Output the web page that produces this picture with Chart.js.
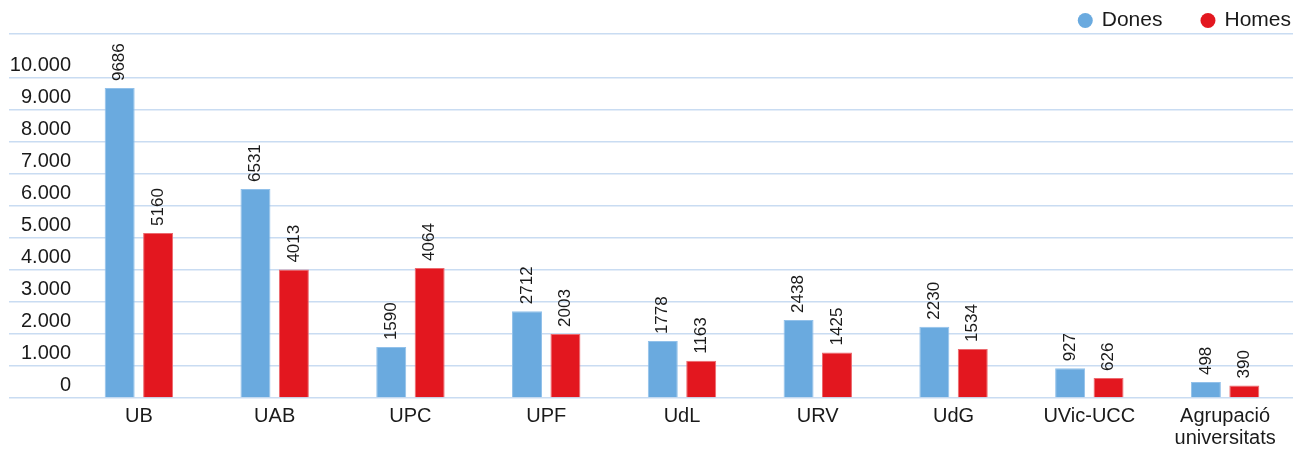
<!DOCTYPE html>
<html>
<head>
<meta charset="utf-8">
<script src="https://cdn.jsdelivr.net/npm/chart.js@4"></script>
<style>
  html, body { margin: 0; padding: 0; background: #fff; }
  #wrap { width: 1293px; height: 450px; }
</style>
</head>
<body>
<div id="wrap"><canvas id="myChart" width="1293" height="450"></canvas></div>
<script>
// data
var categories = ['UB', 'UAB', 'UPC', 'UPF', 'UdL', 'URV', 'UdG', 'UVic-UCC', ['Agrupació', 'universitats']];
var dones = [9686, 6531, 1590, 2712, 1778, 2438, 2230, 927, 498];
var homes = [5160, 4013, 4064, 2003, 1163, 1425, 1534, 626, 390];
var yTickValues = [0, 1000, 2000, 3000, 4000, 5000, 6000, 7000, 8000, 9000, 10000];
var yTop = 11375;

var FONT = "'Liberation Sans', Arial, Helvetica, sans-serif";
var TXT = '#1a1a1a';

function fmt(v) {
  return String(v).replace(/\B(?=(\d{3})+(?!\d))/g, '.');
}

// vertical value labels above every bar
var valueLabels = {
  id: 'valueLabels',
  afterDatasetsDraw: function(chart) {
    var ctx = chart.ctx;
    ctx.save();
    ctx.font = '17px ' + FONT;
    ctx.fillStyle = TXT;
    ctx.textAlign = 'left';
    ctx.textBaseline = 'middle';
    chart.data.datasets.forEach(function(ds, i) {
      chart.getDatasetMeta(i).data.forEach(function(bar, j) {
        ctx.save();
        ctx.translate(bar.x, bar.y - 7);
        ctx.rotate(-Math.PI / 2);
        ctx.fillText(String(ds.data[j]), 0, 0);
        ctx.restore();
      });
    });
    ctx.restore();
  }
};

// legend top right: dot + name, laid out from the right edge
var topLegend = {
  id: 'topLegend',
  afterDraw: function(chart) {
    var ctx = chart.ctx;
    var y = 20.5, r = 7.5, gap = 9, space = 38;
    var x = chart.width - 2;
    ctx.save();
    ctx.font = '21px ' + FONT;
    ctx.textBaseline = 'middle';
    ctx.textAlign = 'left';
    var sets = chart.data.datasets.slice().reverse();
    sets.forEach(function(ds) {
      var w = ctx.measureText(ds.label).width;
      var tx = x - w;
      ctx.fillStyle = TXT;
      ctx.fillText(ds.label, tx, y);
      ctx.beginPath();
      ctx.arc(tx - gap - r, y, r, 0, Math.PI * 2);
      ctx.fillStyle = ds.backgroundColor;
      ctx.fill();
      x = tx - gap - 2 * r - space;
    });
    ctx.restore();
  }
};

var ctx = document.getElementById('myChart').getContext('2d');
var chart = new Chart(ctx, {
  type: 'bar',
  data: {
    labels: categories,
    datasets: [{
      label: 'Dones',
      data: dones,
      backgroundColor: '#6aaadf',
      borderColor: '#92c1ea',
      borderWidth: 1,
      borderSkipped: 'bottom',
      categoryPercentage: 0.566,
      barPercentage: 0.78
    }, {
      label: 'Homes',
      data: homes,
      backgroundColor: '#e3171f',
      borderColor: '#ec6a6f',
      borderWidth: 1,
      borderSkipped: 'bottom',
      categoryPercentage: 0.566,
      barPercentage: 0.78
    }]
  },
  options: {
    responsive: false,
    animation: false,
    layout: { padding: { left: 9, right: 0, top: 34, bottom: 0 } },
    plugins: {
      tooltip: { enabled: false },
      legend: { display: false }
    },
    scales: {
      x: {
        grid: { display: false, drawTicks: false },
        border: { display: false },
        ticks: {
          color: TXT,
          font: { family: FONT, size: 20, lineHeight: 1.1 },
          padding: 7,
          maxRotation: 0,
          autoSkip: false
        },
        afterFit: function(scale) { scale.height = 52; }
      },
      y: {
        min: 0,
        max: yTop,
        border: { display: false },
        grid: {
          color: '#c9dcf2',
          lineWidth: 1.5,
          drawTicks: true,
          tickLength: 62
        },
        ticks: {
          color: TXT,
          font: { family: FONT, size: 20 },
          padding: -62,
          labelOffset: -13,
          callback: function(v) { return v > 10000 ? '' : fmt(v); }
        },
        afterBuildTicks: function(scale) {
          scale.ticks = yTickValues.concat([yTop]).map(function(v) { return { value: v }; });
        },
        afterFit: function(scale) { scale.width = 62; }
      }
    }
  },
  plugins: [valueLabels, topLegend]
});
</script>
</body>
</html>
